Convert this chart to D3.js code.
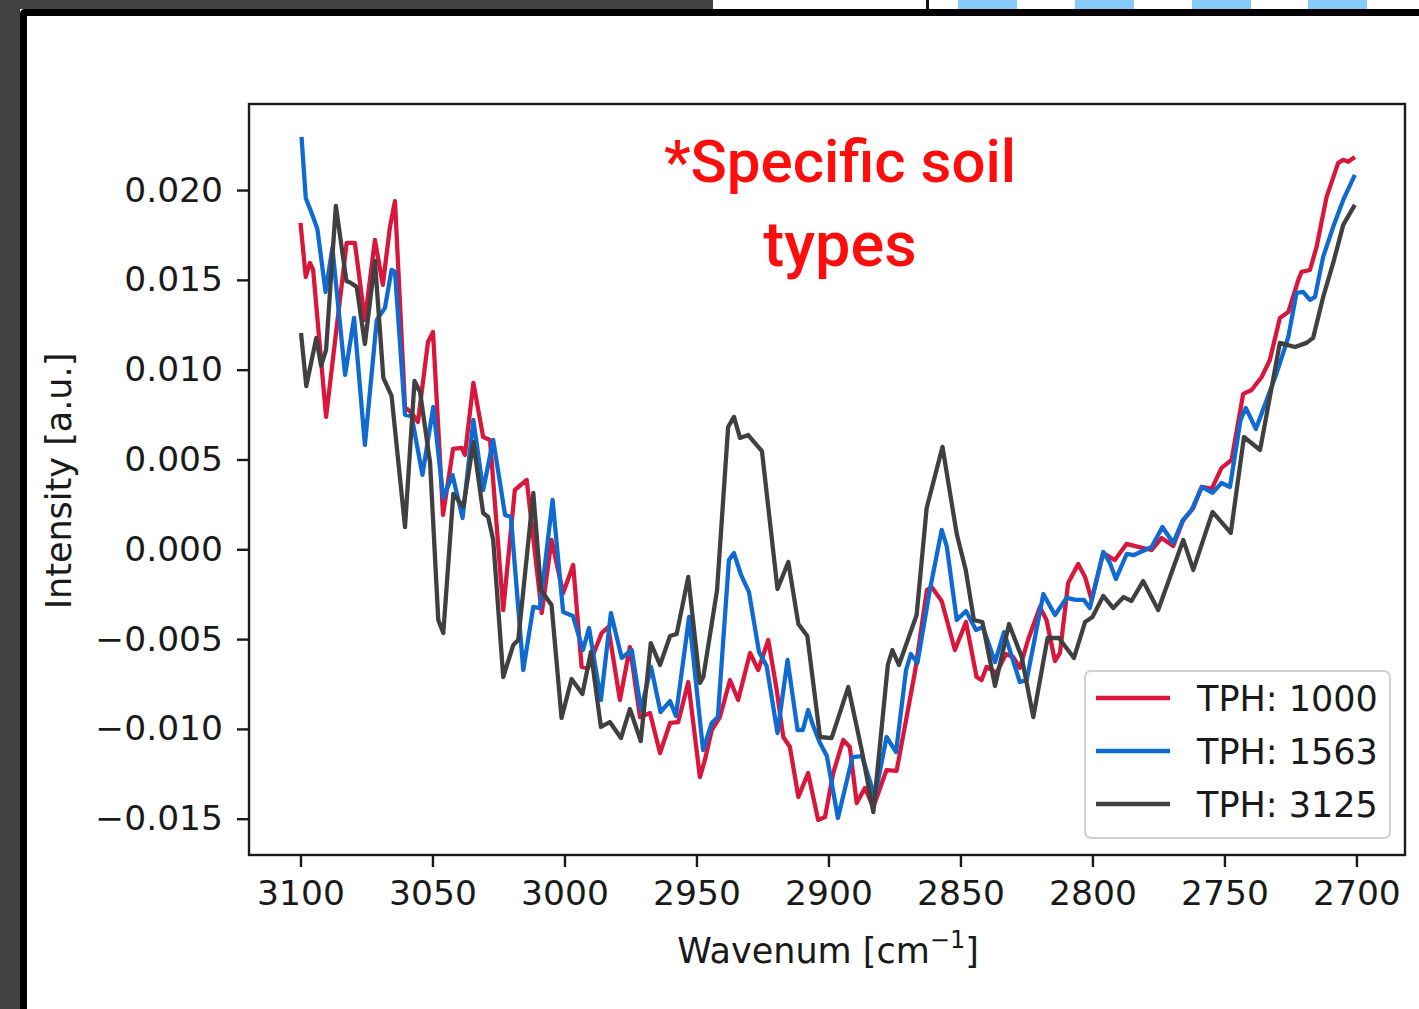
<!DOCTYPE html>
<html>
<head>
<meta charset="utf-8">
<script src="https://cdn.jsdelivr.net/npm/d3@7"></script>
<style>
  html, body { margin: 0; padding: 0; background: #ffffff; }
  svg { display: block; }
</style>
</head>
<body>
<svg id="chart" width="1419" height="1009"></svg>
<script>
// Wavenumber axis ticks (cm^-1) and intensity ticks
const xTicks = [3100, 3050, 3000, 2950, 2900, 2850, 2800, 2750, 2700];
const yTicks = [-0.015, -0.010, -0.005, 0.000, 0.005, 0.010, 0.015, 0.020];

// TPH: 1000
const wnTph1000 = [3100,3098.0,3096.4,3095.2,3090.3,3082.5,3079.4,3075.6,3071.8,3068.8,3066.1,3064.2,3060.4,3057.9,3055.5,3051.7,3049.8,3046.0,3042.2,3038.9,3037.7,3034.5,3030.8,3028.2,3023.2,3018.8,3014.3,3008.6,3004.9,3000.5,2996.7,2993.5,2991.1,2985.9,2983.4,2979.0,2975.2,2971.4,2967.6,2963.8,2960.0,2956.9,2953.1,2948.7,2946.8,2944.2,2941.1,2937.3,2934.2,2929.7,2926.6,2922.8,2919.6,2917.1,2914.6,2911.4,2907.7,2903.9,2901.3,2898.2,2894.4,2891.9,2889.3,2886.2,2883.0,2878.0,2874.2,2870.6,2867.1,2862.7,2860.9,2857.1,2852.1,2847.9,2843.9,2842.0,2840.1,2836.3,2832.8,2830.0,2827.5,2824.4,2819.9,2817.4,2814.2,2812.3,2809.2,2805.4,2802.8,2800.3,2795.9,2791.5,2787.1,2782.7,2777.6,2773.8,2769.4,2765.6,2761.8,2758.6,2754.8,2751.1,2747.3,2742.9,2739.7,2735.9,2732.8,2729.0,2725.8,2722.0,2720.8,2717.6,2715.1,2711.3,2706.9,2705.0,2703.1,2700.6];
const intTph1000 = [0.01817,0.01516,0.01594,0.01555,0.00737,0.01706,0.01706,0.01277,0.01722,0.01472,0.01795,0.01939,0.00792,0.00759,0.00709,0.01154,0.01210,0.00191,0.00559,0.00564,0.00525,0.00926,0.00625,0.00609,-0.00338,0.00330,0.00386,-0.00355,0.00052,-0.00243,-0.00087,-0.00655,-0.00661,-0.00466,-0.00433,-0.00839,-0.00544,-0.00934,-0.00912,-0.01134,-0.00967,-0.00962,-0.00739,-0.01268,-0.01173,-0.01006,-0.00934,-0.00728,-0.00839,-0.00577,-0.00672,-0.00505,-0.00783,-0.01045,-0.01101,-0.01379,-0.01246,-0.01507,-0.01491,-0.01246,-0.01062,-0.01101,-0.01413,-0.01329,-0.01435,-0.01229,-0.01234,-0.00951,-0.00672,-0.00227,-0.00210,-0.00288,-0.00561,-0.00405,-0.00711,-0.00728,-0.00655,-0.00689,-0.00583,-0.00600,-0.00661,-0.00505,-0.00321,-0.00394,-0.00622,-0.00577,-0.00188,-0.00082,-0.00154,-0.00282,-0.00021,-0.00060,0.00030,0.00013,-0.00004,0.00063,0.00018,0.00163,0.00230,0.00347,0.00336,0.00453,0.00497,0.00865,0.00887,0.00959,0.01054,0.01288,0.01321,0.01500,0.01544,0.01555,0.01683,0.01962,0.02151,0.02168,0.02157,0.02184];

// TPH: 1563
const wnTph1563 = [3099.6,3098.0,3095.8,3093.6,3090.5,3087.9,3083.1,3079.7,3075.6,3071.1,3068.0,3065.5,3064.2,3060.4,3057.9,3053.8,3049.7,3045.9,3042.4,3038.6,3034.5,3030.8,3027.0,3022.5,3020.3,3015.6,3011.8,3009.3,3004.5,3000.5,2996.8,2993.0,2990.7,2986.2,2982.4,2978.3,2974.5,2971.0,2967.2,2963.6,2960.0,2957.8,2952.8,2947.5,2944.2,2941.9,2937.7,2935.8,2933.1,2930.1,2926.3,2923.4,2919.3,2915.5,2911.7,2909.7,2907.7,2905.9,2903.2,2900.6,2896.4,2890.9,2887.3,2882.4,2878.0,2874.4,2870.6,2868.8,2866.3,2861.6,2857.1,2855.2,2851.4,2847.9,2844.1,2841.5,2836.9,2833.5,2831.3,2827.5,2824.9,2818.6,2814.2,2809.8,2806.3,2803.2,2801.0,2795.9,2793.4,2791.1,2787.0,2784.3,2777.6,2773.5,2769.4,2765.9,2762.4,2758.6,2754.5,2751.1,2747.9,2743.9,2741.9,2738.1,2734.0,2730.2,2725.8,2722.7,2720.2,2717.6,2715.7,2712.6,2708.8,2705.0,2700.6];
const intTph1563 = [0.02296,0.01956,0.01873,0.01783,0.01433,0.01678,0.00971,0.01288,0.00581,0.01277,0.01344,0.01555,0.01544,0.00748,0.00742,0.00414,0.00792,0.00286,0.00414,0.00174,0.00720,0.00330,0.00609,0.00191,0.00180,-0.00672,-0.00321,-0.00327,0.00275,-0.00349,-0.00371,-0.00561,-0.00438,-0.00839,-0.00355,-0.00605,-0.00561,-0.00895,-0.00655,-0.00906,-0.00845,-0.00928,-0.00377,-0.01118,-0.00967,-0.00934,-0.00060,-0.00021,-0.00143,-0.00238,-0.00572,-0.00650,-0.01023,-0.00616,-0.01006,-0.01006,-0.00895,-0.00978,-0.01079,-0.01151,-0.01496,-0.01157,-0.01151,-0.01379,-0.01045,-0.01129,-0.00672,-0.00583,-0.00633,-0.00227,0.00108,0.00018,-0.00394,-0.00344,-0.00449,-0.00433,-0.00628,-0.00461,-0.00561,-0.00739,-0.00728,-0.00249,-0.00366,-0.00271,-0.00282,-0.00282,-0.00327,-0.00015,-0.00076,-0.00165,-0.00026,-0.00032,0.00013,0.00124,0.00035,0.00158,0.00219,0.00347,0.00314,0.00369,0.00347,0.00720,0.00787,0.00670,0.00831,0.00982,0.01182,0.01427,0.01433,0.01388,0.01405,0.01628,0.01795,0.01945,0.02084];

// TPH: 3125
const wnTph3125 = [3099.8,3097.8,3094.0,3092.2,3090.3,3086.6,3082.6,3080.9,3078.7,3075.6,3071.8,3068.6,3065.5,3060.4,3056.8,3054.7,3050.9,3047.8,3045.9,3042.1,3038.3,3034.5,3030.8,3028.9,3027.0,3023.2,3019.4,3017.5,3011.8,3008.9,3004.9,3001.1,2997.3,2993.2,2990.0,2986.2,2982.8,2978.6,2975.2,2971.1,2967.3,2963.8,2960.0,2957.5,2953.1,2948.7,2947.4,2942.2,2938.0,2935.8,2933.5,2930.4,2925.2,2919.3,2915.2,2911.4,2908.0,2903.2,2898.8,2892.5,2887.4,2883.0,2877.5,2875.8,2873.3,2866.6,2862.8,2856.8,2851.4,2848.0,2844.9,2841.7,2836.9,2831.6,2826.8,2822.4,2817.0,2812.7,2807.0,2802.8,2800.0,2795.9,2792.1,2788.2,2785.2,2780.8,2775.1,2765.6,2761.8,2754.5,2747.6,2742.6,2736.5,2729.0,2723.3,2718.9,2716.4,2712.6,2708.8,2705.0,2700.6];
const intTph3125 = [0.01204,0.00909,0.01177,0.01021,0.01110,0.01912,0.01494,0.01483,0.01461,0.01143,0.01605,0.00954,0.00854,0.00124,0.00937,0.00876,0.00481,-0.00394,-0.00466,0.00308,0.00236,0.00597,0.00202,0.00180,0.00052,-0.00711,-0.00533,-0.00505,0.00314,-0.00227,-0.00310,-0.00939,-0.00722,-0.00806,-0.00572,-0.00989,-0.00962,-0.01051,-0.00889,-0.01067,-0.00522,-0.00644,-0.00483,-0.00472,-0.00154,-0.00744,-0.00711,-0.00227,0.00681,0.00737,0.00620,0.00636,0.00547,-0.00221,-0.00071,-0.00416,-0.00483,-0.01045,-0.01051,-0.00767,-0.01118,-0.01463,-0.00644,-0.00561,-0.00644,-0.00366,0.00230,0.00570,0.00085,-0.00115,-0.00394,-0.00405,-0.00761,-0.00416,-0.00600,-0.00934,-0.00494,-0.00494,-0.00605,-0.00405,-0.00377,-0.00260,-0.00327,-0.00266,-0.00288,-0.00177,-0.00338,0.00052,-0.00115,0.00208,0.00091,0.00625,0.00553,0.01149,0.01126,0.01149,0.01177,0.01405,0.01594,0.01806,0.01917];

const seriesNames = ["TPH: 1000", "TPH: 1563", "TPH: 3125"];
const seriesColors = ["#d9163b", "#0f6bd2", "#404040"];
const seriesWn = [wnTph1000, wnTph1563, wnTph3125];
const seriesInt = [intTph1000, intTph1563, intTph3125];

const svg = d3.select("#chart");
const W = 1419, H = 1009;
const plot = { left: 249, right: 1405, top: 104, bottom: 855 };
const FONT = "'DejaVu Sans', sans-serif";
const INK = "#1a1a1a";

// ---- surrounding frame ----
svg.append("rect").attr("x", 0).attr("y", 0).attr("width", W).attr("height", H).attr("fill", "#ffffff");
svg.append("rect").attr("x", 0).attr("y", 0).attr("width", 713).attr("height", 9).attr("fill", "#414141");
svg.append("rect").attr("x", 0).attr("y", 0).attr("width", 20).attr("height", H).attr("fill", "#414141");
svg.append("rect").attr("x", 926).attr("y", 0).attr("width", 3).attr("height", 9).attr("fill", "#111");
[958, 1075, 1192, 1308].forEach(x0 => {
  svg.append("rect").attr("x", x0).attr("y", 0).attr("width", 59).attr("height", 9).attr("fill", "#87cbf8");
});
svg.append("path")
  .attr("d", `M20,${H} L20,14 Q20,9 25,9 L${W},9 L${W},16 L27,16 L27,${H} Z`)
  .attr("fill", "#000");

// ---- scales ----
const x = d3.scaleLinear().domain([3119.5, 2681.6]).range([plot.left, plot.right]);
const y = d3.scaleLinear().domain([-0.01702, 0.02479]).range([plot.bottom, plot.top]);

// ---- series ----
const line = d3.line().x(d => x(d[0])).y(d => y(d[1]));
const g = svg.append("g");
seriesNames.forEach((name, i) => {
  g.append("path")
    .datum(d3.zip(seriesWn[i], seriesInt[i]))
    .attr("d", line)
    .attr("fill", "none")
    .attr("stroke", seriesColors[i])
    .attr("stroke-width", 4.3)
    .attr("stroke-linejoin", "round")
    .attr("stroke-linecap", "butt");
});

// ---- axes ----
const fmt = d3.format(".3f");
const xAxis = d3.axisBottom(x).tickValues(xTicks).tickSize(12).tickPadding(14).tickFormat(d3.format("d"));
const yAxis = d3.axisLeft(y).tickValues(yTicks).tickSize(12).tickPadding(14).tickFormat(fmt);

const gx = svg.append("g").attr("transform", `translate(0,${plot.bottom})`).call(xAxis);
const gy = svg.append("g").attr("transform", `translate(${plot.left},0)`).call(yAxis);
[gx, gy].forEach(a => {
  a.select(".domain").remove();
  a.selectAll(".tick line").attr("stroke", INK).attr("stroke-width", 2.4);
  a.selectAll(".tick text").attr("fill", INK).style("font-family", FONT).style("font-size", "34.5px");
});

// plot frame
svg.append("rect")
  .attr("x", plot.left).attr("y", plot.top)
  .attr("width", plot.right - plot.left).attr("height", plot.bottom - plot.top)
  .attr("fill", "none").attr("stroke", INK).attr("stroke-width", 2.4);

// axis titles
const xl = svg.append("text")
  .attr("x", 828).attr("y", 963)
  .attr("text-anchor", "middle")
  .attr("fill", INK)
  .style("font-family", FONT).style("font-size", "35px");
xl.append("tspan").text("Wavenum [cm");
xl.append("tspan").attr("dy", -15).style("font-size", "24px").text("\u22121");
xl.append("tspan").attr("dy", 15).text("]");

svg.append("text")
  .attr("transform", "translate(59,481) rotate(-90)")
  .attr("dy", "0.35em")
  .attr("text-anchor", "middle")
  .attr("fill", INK)
  .style("font-family", FONT).style("font-size", "35px")
  .text("Intensity [a.u.]");

// annotation
const note = svg.append("text")
  .attr("text-anchor", "middle")
  .attr("fill", "#ff0d0d")
  .style("font-family", "Roboto, sans-serif").style("font-weight", 500).style("font-size", "60px");
note.append("tspan").attr("x", 840).attr("y", 182).text("*Specific soil");
note.append("tspan").attr("x", 840).attr("y", 266).style("font-size", "63px").text("types");

// ---- legend ----
const lg = svg.append("g");
lg.append("rect")
  .attr("x", 1085).attr("y", 671).attr("width", 305).attr("height", 167).attr("rx", 6)
  .attr("fill", "#ffffff").attr("fill-opacity", 0.85)
  .attr("stroke", "#d0d0d0").attr("stroke-width", 2);
seriesNames.forEach((name, i) => {
  const cy = 698 + i * 53;
  lg.append("line")
    .attr("x1", 1096).attr("x2", 1170).attr("y1", cy).attr("y2", cy)
    .attr("stroke", seriesColors[i]).attr("stroke-width", 4.3);
  lg.append("text")
    .attr("x", 1197).attr("y", cy).attr("dy", "0.36em")
    .attr("fill", INK)
    .style("font-family", FONT).style("font-size", "35px")
    .text(name);
});
</script>
</body>
</html>
